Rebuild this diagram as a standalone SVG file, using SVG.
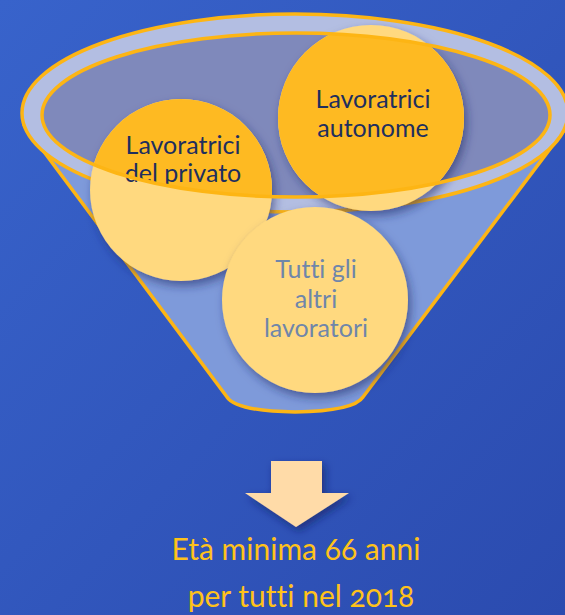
<svg xmlns="http://www.w3.org/2000/svg" width="565" height="615" viewBox="0 0 565 615">
<style>
.lbl{font-family:Lato,"Open Sans","Liberation Sans",sans-serif;font-size:25px;text-anchor:middle;font-variant-ligatures:none}
.dark{fill:#1E2F5E}
.grey{fill:#6F86AA}
.res{font-family:Lato,"Open Sans","Liberation Sans",sans-serif;font-size:30px;text-anchor:middle;fill:#FFC21A;font-variant-ligatures:none;font-variant-numeric:oldstyle-nums}
.pale{fill:#FFD97F}
.orng{fill:#FEBA22}
.rim{fill:none;stroke:#FDB514;stroke-width:3.5}
</style>
<defs>
<linearGradient id="bg" x1="0" y1="0" x2="1" y2="1">
<stop offset="0" stop-color="#3863CB"/>
<stop offset="1" stop-color="#2B4BAF"/>
</linearGradient>
<filter id="sh" x="-20%" y="-20%" width="150%" height="150%">
<feDropShadow dx="3" dy="5" stdDeviation="5" flood-color="#1B2A63" flood-opacity="0.55"/>
</filter>
<filter id="sh2" x="-30%" y="-30%" width="160%" height="160%">
<feDropShadow dx="3" dy="4" stdDeviation="4" flood-color="#14225A" flood-opacity="0.6"/>
</filter>
<clipPath id="inner"><ellipse cx="296" cy="115" rx="254" ry="82"/></clipPath>
</defs>
<rect width="565" height="615" fill="url(#bg)"/>

<g id="funnel">
<path d="M24,125 L227,397 Q236,411 295,412 Q354,411 363,397 L568,125 Z" fill="#7E9ADA" stroke="#FDB514" stroke-width="3.5" stroke-linejoin="round"/>
<ellipse cx="295" cy="113" rx="273" ry="99" fill="#B3BEE2" stroke="#FDB514" stroke-width="3.5"/>
<ellipse cx="296" cy="115" rx="254" ry="82" fill="#7F89BB"/>
</g>

<g id="node-privato">
<circle cx="181" cy="190" r="91" class="pale" filter="url(#sh)"/>
<circle cx="181" cy="190" r="91" class="orng" clip-path="url(#inner)"/>
</g>
<g id="node-autonome">
<circle cx="371" cy="118" r="93" class="pale" filter="url(#sh)"/>
<circle cx="371" cy="118" r="93" class="orng" clip-path="url(#inner)"/>
<text class="lbl dark" x="373" y="108">Lavoratrici</text>
<text class="lbl dark" x="373" y="137">autonome</text>
</g>
<g id="node-privato-label">
<text class="lbl dark" x="183" y="154">Lavoratrici</text>
<text class="lbl dark" x="183" y="182">del privato</text>
</g>
<ellipse cx="296" cy="115" rx="254" ry="82" class="rim"/>

<g id="node-altri">
<circle cx="315" cy="300" r="93" class="pale" filter="url(#sh)"/>
<text class="lbl grey" x="316" y="278">Tutti gli</text>
<text class="lbl grey" x="316" y="308">altri</text>
<text class="lbl grey" x="316" y="337">lavoratori</text>
</g>

<g id="connectors">
<path d="M271,461 L322,461 L322,493 L349,493 L296,527 L245,493 L271,493 Z" fill="#FFDBA8" filter="url(#sh2)"/>
</g>

<g id="node-result">
<text class="res" x="296" y="560">Età minima 66 anni</text>
<text class="res" x="301" y="607">per tutti nel 2018</text>
</g>
</svg>
